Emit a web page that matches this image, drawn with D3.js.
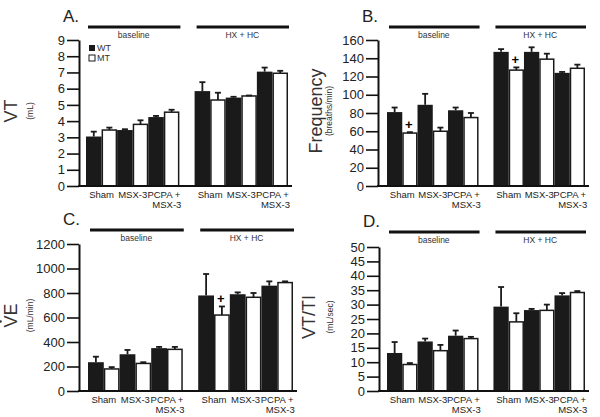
<!DOCTYPE html>
<html>
<head>
<meta charset="utf-8">
<script src="https://cdn.jsdelivr.net/npm/d3@7"></script>
<style>
  body { margin: 0; background: #fff; }
  svg { font-family: "Liberation Sans", Arial, sans-serif; }
</style>
</head>
<body>
<svg id="fig" width="600" height="417"></svg>
<script>
/* categories */
var groups = ["baseline", "HX + HC"];
var treatments = ["Sham", "MSX-3", "PCPA +|MSX-3"];
var genotypes = ["WT", "MT"];

/* values, order: group -> treatment -> WT, MT */
var vtMean = [3.05, 3.45, 3.45, 3.8, 4.25, 4.55, 5.85, 5.3, 5.45, 5.55, 7.05, 6.95];
var vtErr  = [0.3, 0.15, 0.05, 0.25, 0.07, 0.15, 0.55, 0.45, 0.05, 0.03, 0.25, 0.15];

var freqMean = [81, 58, 89, 60, 83, 75, 147, 127, 147, 139, 124, 129];
var freqErr  = [5, 1, 12, 4, 3, 5, 3, 3, 5, 6, 1, 4];

var veMean = [235, 180, 300, 225, 350, 340, 780, 620, 790, 765, 860, 885];
var veErr  = [45, 15, 35, 10, 10, 20, 175, 70, 15, 35, 35, 10];

var vttiMean = [13.2, 9.2, 17.2, 14, 19.2, 18.2, 29.3, 24, 28.1, 28, 33.2, 34.2];
var vttiErr  = [3.8, 0.5, 1, 2, 1.8, 0.6, 6.8, 3, 0.4, 2, 0.8, 0.5];

/* bars marked with "+" (index into the arrays above) */
var freqPlus = [1, 7];
var vePlus = [7];

var svg = d3.select("#fig");

var panels = [
    {letter: "A.", title: "VT", unit: "(mL)", mean: vtMean, err: vtErr, max: 9, step: 1, plus: [],
     ax: 79, top: 40, base: 186, range: [86, 288], hy: 27, tx: -62, legend: true},
    {letter: "B.", title: "Frequency", unit: "(breaths/min)", mean: freqMean, err: freqErr, max: 160, step: 20, plus: freqPlus,
     ax: 378, top: 40, base: 186, range: [387, 585], hy: 27, tx: -56},
    {letter: "C.", title: "VE", unit: "(mL/min)", mean: veMean, err: veErr, max: 1200, step: 200, plus: vePlus,
     ax: 79, top: 244, base: 391, range: [88, 293], hy: 230, tx: -62, dot: true},
    {letter: "D.", title: "VT/TI", unit: "(mL/sec)", mean: vttiMean, err: vttiErr, max: 50, step: 5, plus: [],
     ax: 379, top: 247, base: 391, range: [387, 585], hy: 232, tx: -64}
];

panels.forEach(drawPanel);

function drawPanel(p) {
    var g = svg.append("g");

    var y = d3.scaleLinear().domain([0, p.max]).range([p.base, p.top]);
    var xg = d3.scaleBand().domain(groups).range(p.range).paddingInner(0.14);
    var xb = d3.scaleBand().domain(d3.range(6)).range([0, xg.bandwidth()]);

    // rows for bars
    var rows = [];
    groups.forEach(function(gr, gi) {
        treatments.forEach(function(t, ti) {
            genotypes.forEach(function(ge, ei) {
                var i = gi * 6 + ti * 2 + ei;
                rows.push({i: i, group: gr, k: ti * 2 + ei, geno: ge, v: p.mean[i], e: p.err[i]});
            });
        });
    });

    // panel letter
    g.append("text")
        .attr("x", p.ax - 16).attr("y", p.hy - 5)
        .attr("font-size", 17).attr("fill", "#222").text(p.letter);

    // y title
    var ty = (p.top + p.base) / 2 - 2;
    var tg = g.append("g")
        .attr("transform", "translate(" + (p.ax + p.tx) + "," + ty + ") rotate(-90)");
    var tt = tg.append("text")
        .attr("text-anchor", "middle").attr("font-size", 18).attr("fill", "#333")
        .text(p.title);
    if (p.dot) {
        // dot over the V (V-dot)
        var w = tt.node().getComputedTextLength();
        tg.append("circle")
            .attr("cx", -w / 2 + 6).attr("cy", -16.5).attr("r", 1.3)
            .attr("fill", "#333");
    }
    g.append("text")
        .attr("transform", "translate(" + (p.ax - 46) + "," + ty + ") rotate(-90)")
        .attr("text-anchor", "middle").attr("font-size", 8.5).attr("fill", "#333")
        .text(p.unit);

    // group headers
    groups.forEach(function(gr) {
        g.append("line")
            .attr("x1", xg(gr) + 2).attr("x2", xg(gr) + xg.bandwidth() + 1)
            .attr("y1", p.hy).attr("y2", p.hy)
            .attr("stroke", "#111").attr("stroke-width", 3);
        g.append("text")
            .attr("x", xg(gr) + xg.bandwidth() / 2 + 1).attr("y", p.hy + 11)
            .attr("text-anchor", "middle").attr("font-size", 8.5).attr("fill", "#333")
            .text(gr);
    });

    // bars
    g.selectAll(".bar").data(rows).enter().append("rect")
        .attr("x", function(d) { return xg(d.group) + xb(d.k) + (d.geno == "MT" ? 0.75 : 0); })
        .attr("y", function(d) { return y(d.v); })
        .attr("width", function(d) { return xb.bandwidth() - (d.geno == "MT" ? 1.5 : 0); })
        .attr("height", function(d) { return y(0) - y(d.v); })
        .attr("fill", function(d) { return d.geno == "WT" ? "#1a1a1a" : "#fff"; })
        .attr("stroke", "#1a1a1a")
        .attr("stroke-width", function(d) { return d.geno == "WT" ? 0 : 1.5; });

    // error bars (upper only)
    var eb = g.selectAll(".err").data(rows).enter().append("g");
    eb.append("line")
        .attr("x1", function(d) { return xg(d.group) + xb(d.k) + xb.bandwidth() / 2; })
        .attr("x2", function(d) { return xg(d.group) + xb(d.k) + xb.bandwidth() / 2; })
        .attr("y1", function(d) { return y(d.v); })
        .attr("y2", function(d) { return y(d.v + d.e); })
        .attr("stroke", "#1a1a1a").attr("stroke-width", 1.8);
    eb.append("line")
        .attr("x1", function(d) { return xg(d.group) + xb(d.k) + xb.bandwidth() / 2 - 3; })
        .attr("x2", function(d) { return xg(d.group) + xb(d.k) + xb.bandwidth() / 2 + 3; })
        .attr("y1", function(d) { return y(d.v + d.e); })
        .attr("y2", function(d) { return y(d.v + d.e); })
        .attr("stroke", "#1a1a1a").attr("stroke-width", 1.8);

    // "+" marks
    g.selectAll(".plus").data(rows.filter(function(d) { return p.plus.indexOf(d.i) >= 0; }))
        .enter().append("text")
        .attr("x", function(d) { return xg(d.group) + xb(d.k) + xb.bandwidth() / 2 - 1; })
        .attr("y", function(d) { return y(d.v + d.e) - 3; })
        .attr("text-anchor", "middle").attr("font-size", 13).attr("font-weight", "bold")
        .text("+");

    // y axis
    var yAxis = d3.axisLeft(y)
        .tickValues(d3.range(0, p.max + p.step / 2, p.step))
        .tickSize(12).tickSizeOuter(0).tickPadding(2)
        .tickFormat(d3.format("d"));
    var ga = g.append("g")
        .attr("transform", "translate(" + p.ax + ",0)")
        .call(yAxis);
    ga.select(".domain").attr("stroke", "#111").attr("stroke-width", 2);
    ga.selectAll(".tick line").attr("stroke", "#111").attr("stroke-width", 1.6);
    ga.selectAll(".tick text").attr("font-size", 13).attr("fill", "#222")
        .attr("font-family", "Liberation Sans, Arial, sans-serif");

    // x axis baseline
    g.append("line")
        .attr("x1", p.ax - 1).attr("x2", p.range[1] + 4)
        .attr("y1", p.base).attr("y2", p.base)
        .attr("stroke", "#111").attr("stroke-width", 2);

    // x labels (under WT/MT pairs)
    groups.forEach(function(gr) {
        treatments.forEach(function(t, ti) {
            var cx = xg(gr) + xb(ti * 2 + 1);
            var lines = t.split("|");
            lines.forEach(function(s, li) {
                g.append("text")
                    .attr("x", cx + (li > 0 ? 3 : 0))
                    .attr("y", p.base + 12 + li * 9.5)
                    .attr("text-anchor", "middle").attr("font-size", 9.5).attr("fill", "#222")
                    .text(s);
            });
        });
    });

    // legend
    if (p.legend) {
        genotypes.forEach(function(ge, i) {
            g.append("rect")
                .attr("x", p.ax + 10).attr("y", p.top + 5 + i * 10)
                .attr("width", 6).attr("height", 6)
                .attr("fill", ge == "WT" ? "#1a1a1a" : "#fff")
                .attr("stroke", "#1a1a1a").attr("stroke-width", ge == "WT" ? 0 : 1);
            g.append("text")
                .attr("x", p.ax + 18).attr("y", p.top + 11 + i * 10)
                .attr("font-size", 9).attr("fill", "#333")
                .text(ge);
        });
    }
}
</script>
</body>
</html>
